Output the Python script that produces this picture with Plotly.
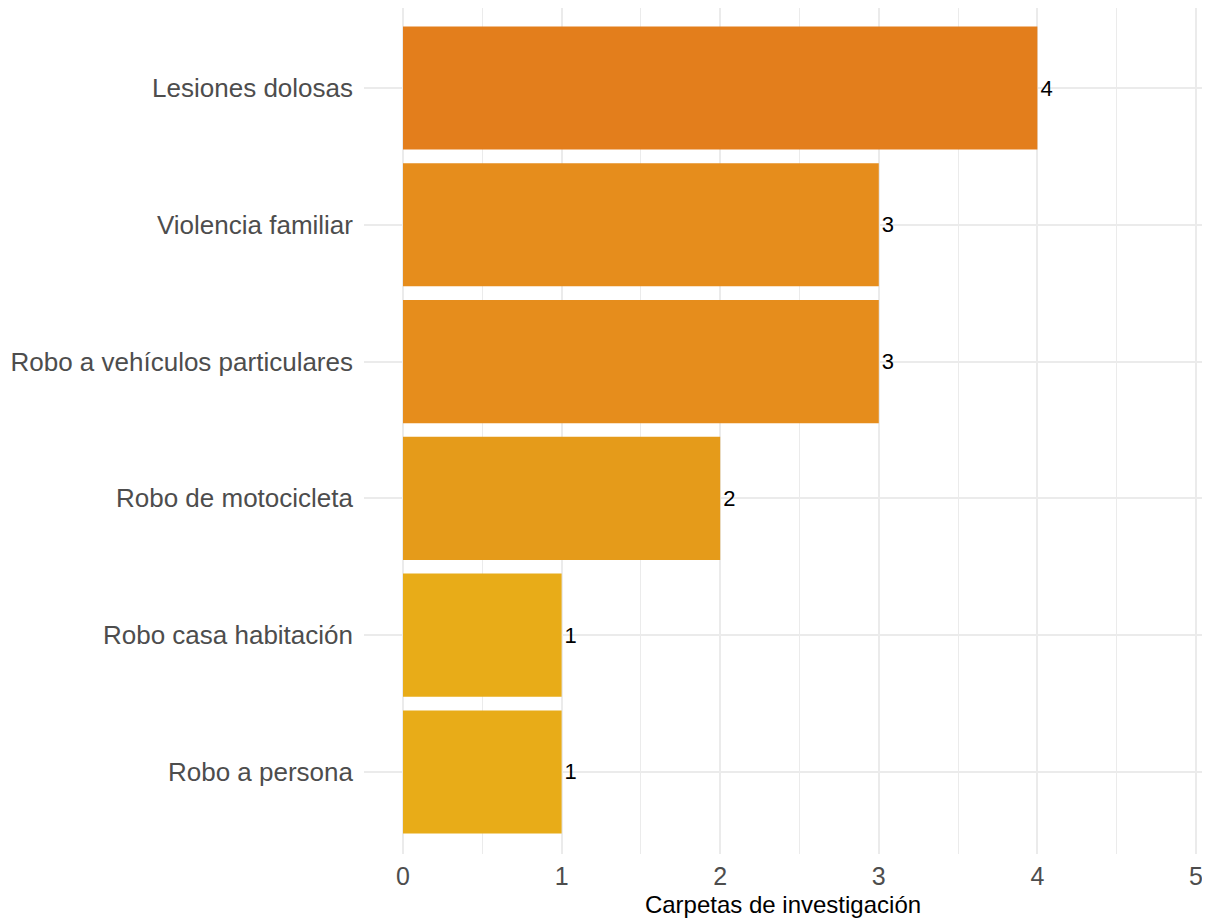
import plotly.graph_objects as go

# delitos, de arriba hacia abajo
categories = [
    "Lesiones dolosas",
    "Violencia familiar",
    "Robo a vehículos particulares",
    "Robo de motocicleta",
    "Robo casa habitación",
    "Robo a persona",
]
counts = [4, 3, 3, 2, 1, 1]
x_ticks = [0, 1, 2, 3, 4, 5]
x_title = "Carpetas de investigación"

FONT = "Liberation Sans, Arial, sans-serif"
GRID = "#EBEBEB"

# escala de color según el número de carpetas
colorscale = [
    [0.0, "#E8AC18"],
    [1 / 3, "#E59B1A"],
    [2 / 3, "#E68D1C"],
    [1.0, "#E37E1C"],
]

fig = go.Figure(
    go.Bar(
        x=counts,
        y=categories,
        orientation="h",
        width=0.9,
        marker=dict(color=counts, colorscale=colorscale, cmin=1, cmax=4, line=dict(width=0)),
        text=[str(v) for v in counts],
        textposition="outside",
        constraintext="none",
        textfont=dict(family=FONT, size=22, color="black"),
        cliponaxis=False,
        hoverinfo="x+y",
    )
)

# la página deja 8 px de margen en el body, se descuentan aquí
fig.update_layout(
    width=1202,
    height=915,
    margin=dict(l=356, r=8, t=0, b=69),
    paper_bgcolor="white",
    plot_bgcolor="white",
    showlegend=False,
    font=dict(family=FONT, color="#4D4D4D"),
)
fig.update_xaxes(
    range=[-0.246, 5.038],
    tickvals=x_ticks,
    automargin=False,
    showgrid=True,
    gridcolor=GRID,
    gridwidth=2,
    minor=dict(dtick=0.5, tick0=0, showgrid=True, gridcolor=GRID, gridwidth=1),
    zeroline=False,
    showline=False,
    ticks="",
    ticklabelstandoff=5,
    tickfont=dict(size=25, color="#4D4D4D"),
    title=dict(text=x_title, font=dict(size=24, color="black"), standoff=7),
)
fig.update_yaxes(
    categoryorder="array",
    categoryarray=categories,
    range=[5.6, -0.585],
    automargin=False,
    showgrid=True,
    gridcolor=GRID,
    gridwidth=2,
    zeroline=False,
    showline=False,
    ticks="",
    ticklabelstandoff=10,
    tickfont=dict(size=26, color="#4D4D4D"),
)

fig.write_html("out.html")
